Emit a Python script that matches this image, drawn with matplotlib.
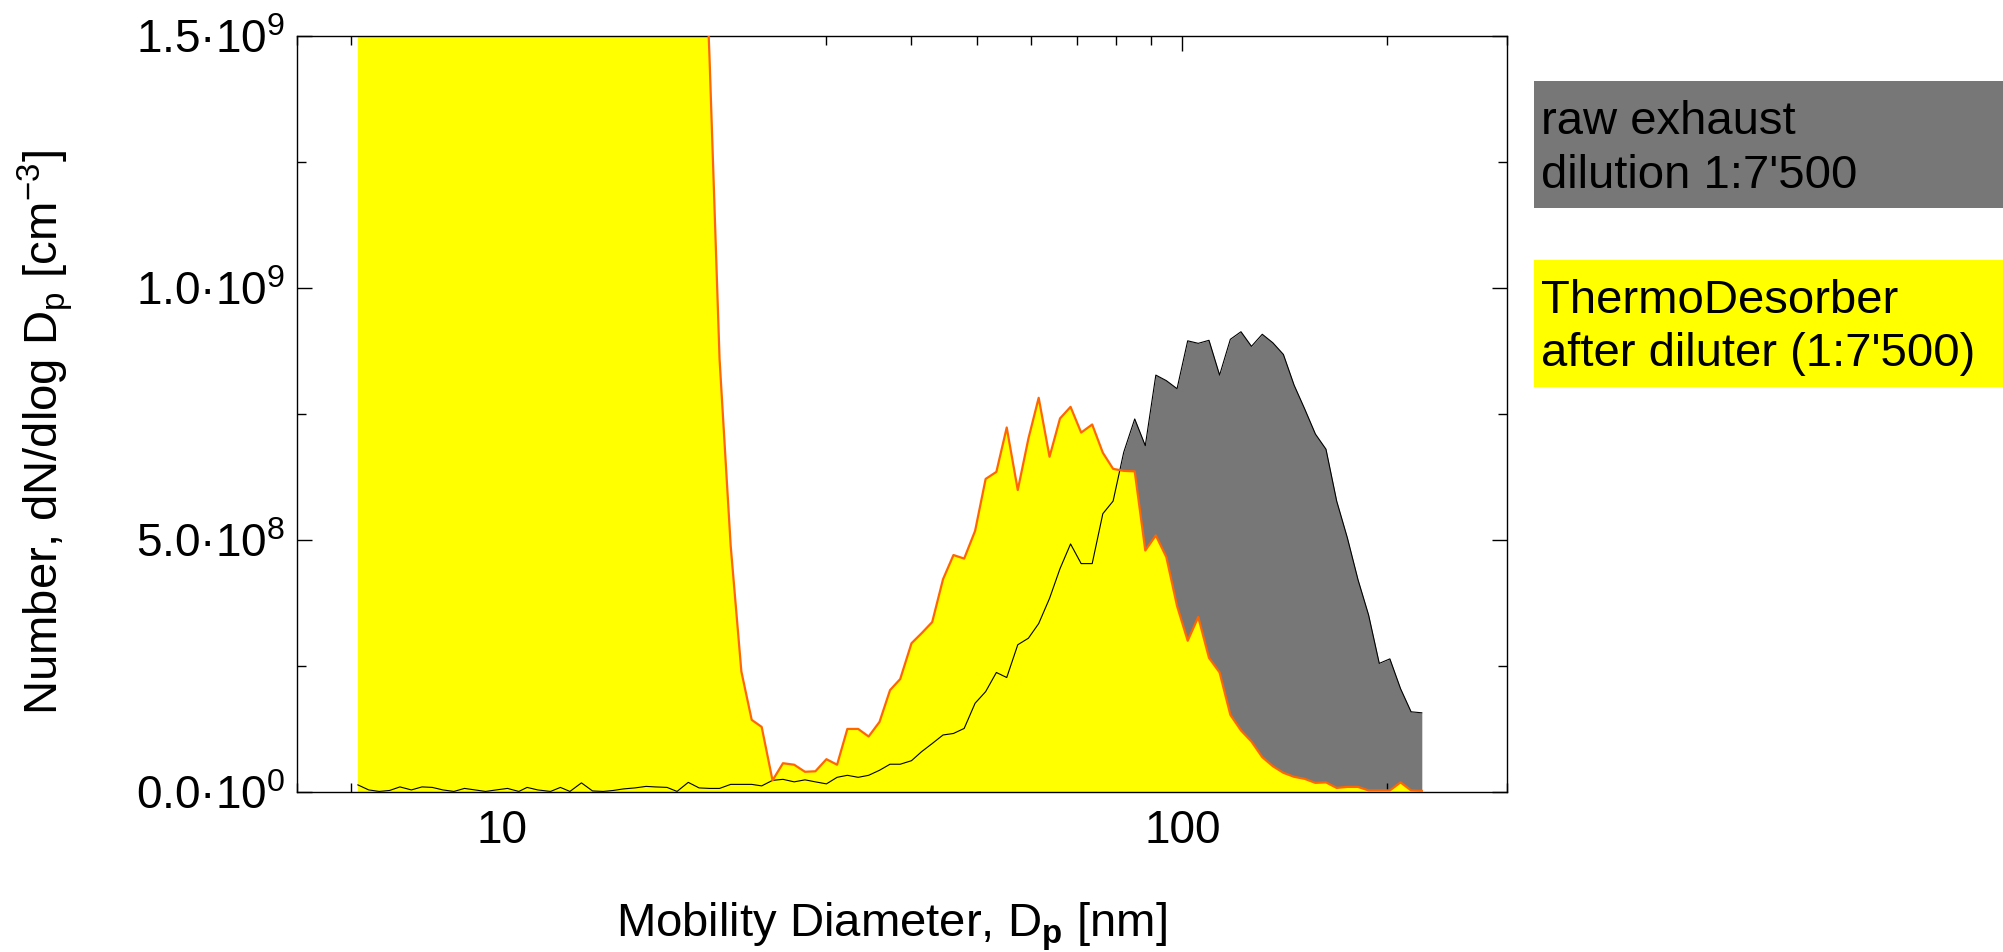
from __future__ import annotations

import math

import matplotlib
matplotlib.use('Agg')
import matplotlib.pyplot as plt
from matplotlib.patches import Rectangle
from matplotlib.ticker import FixedLocator, FuncFormatter, LogLocator, NullFormatter

# SMPS channel midpoints [nm]
DIAMETERS = [
    6.15, 6.38, 6.61, 6.85, 7.09, 7.37, 7.64, 7.91, 8.20, 8.51,
    8.82, 9.14, 9.47, 9.82, 10.2, 10.6, 10.9, 11.3, 11.8, 12.2,
    12.6, 13.1, 13.6, 14.1, 14.6, 15.1, 15.7, 16.3, 16.8, 17.5,
    18.1, 18.8, 19.5, 20.2, 20.9, 21.7, 22.5, 23.3, 24.1, 25.0,
    25.9, 26.9, 27.9, 28.9, 30.0, 31.1, 32.2, 33.4, 34.6, 35.9,
    37.2, 38.5, 40.0, 41.4, 42.9, 44.5, 46.1, 47.8, 49.6, 51.4,
    53.3, 55.2, 57.3, 59.4, 61.5, 63.8, 66.1, 68.5, 71.0, 73.7,
    76.4, 79.1, 82.0, 85.1, 88.2, 91.4, 94.7, 98.2, 101.8, 105.5,
    109.4, 113.4, 117.6, 121.9, 126.3, 131.0, 135.8, 140.7, 145.9, 151.2,
    156.8, 162.5, 168.5, 174.7, 181.1, 187.7, 194.6, 201.7, 209.1, 216.7,
    224.7,
]

# dN/dlogDp in units of 1e8 cm^-3
RAW_EXHAUST = [
    0.15, 0.05, 0.02, 0.04, 0.11, 0.05, 0.11, 0.10, 0.05, 0.02,
    0.08, 0.05, 0.02, 0.05, 0.08, 0.02, 0.10, 0.05, 0.02, 0.10,
    0.02, 0.19, 0.03, 0.02, 0.04, 0.07, 0.09, 0.12, 0.11, 0.10,
    0.02, 0.20, 0.09, 0.08, 0.08, 0.16, 0.16, 0.16, 0.13, 0.24,
    0.26, 0.21, 0.25, 0.21, 0.17, 0.30, 0.34, 0.30, 0.34, 0.44,
    0.56, 0.56, 0.63, 0.81, 0.97, 1.14, 1.17, 1.27, 1.77, 2.00,
    2.38, 2.28, 2.93, 3.06, 3.35, 3.85, 4.44, 4.93, 4.54, 4.54,
    5.53, 5.78, 6.75, 7.41, 6.88, 8.28, 8.17, 8.01, 8.96, 8.91,
    8.97, 8.28, 8.99, 9.14, 8.85, 9.09, 8.92, 8.69, 8.08, 7.61,
    7.11, 6.81, 5.78, 5.05, 4.22, 3.52, 2.56, 2.65, 2.06, 1.60,
    1.58,
]

THERMO_DESORBER = [
    48.0, 51.0, 53.5, 55.0, 56.0, 55.5, 54.0, 52.5, 50.0, 48.5,
    46.0, 44.5, 42.0, 40.5, 38.0, 36.5, 35.0, 33.0, 31.5, 30.0,
    28.5, 27.0, 26.0, 25.0, 24.0, 23.5, 23.0, 22.5, 22.0, 21.5,
    21.0, 20.5, 20.0, 14.6, 8.6, 4.9, 2.4, 1.44, 1.30, 0.24,
    0.58, 0.55, 0.41, 0.42, 0.66, 0.55, 1.26, 1.26, 1.11, 1.40,
    2.03, 2.25, 2.96, 3.16, 3.38, 4.23, 4.71, 4.64, 5.19, 6.22,
    6.36, 7.24, 6.00, 7.02, 7.83, 6.66, 7.42, 7.65, 7.14, 7.30,
    6.74, 6.42, 6.38, 6.37, 4.80, 5.10, 4.67, 3.70, 3.01, 3.48,
    2.67, 2.38, 1.54, 1.23, 1.01, 0.70, 0.52, 0.39, 0.31, 0.27,
    0.19, 0.20, 0.09, 0.11, 0.11, 0.04, 0.04, 0.04, 0.20, 0.04,
    0.03,
]

Y_TICKS = [0.0, 5.0e8, 1.0e9, 1.5e9]
LEGEND_LABELS = [
    ('raw exhaust', 'dilution 1:7\'500'),
    ('ThermoDesorber', 'after diluter (1:7\'500)'),
]

GRAY = '#777777'
YELLOW = '#ffff00'
ORANGE = '#ff6600'
FONT_SIZE = 34


def _sci_label(value: float, _pos=None) -> str:
    if value == 0:
        mant, exp = 0.0, 0
    else:
        exp = int(math.floor(math.log10(abs(value))))
        mant = value / 10 ** exp
    return f'{mant:.1f}\u00b710$^{{{exp}}}$'


def main() -> None:
    plt.rcParams['font.family'] = ['Liberation Sans', 'DejaVu Sans']
    plt.rcParams['mathtext.fontset'] = 'custom'
    plt.rcParams['mathtext.rm'] = 'Liberation Sans'
    plt.rcParams['mathtext.it'] = 'Liberation Sans:italic'
    plt.rcParams['mathtext.bf'] = 'Liberation Sans:bold'
    plt.rcParams['mathtext.default'] = 'regular'

    raw = [v * 1e8 for v in RAW_EXHAUST]
    td = [v * 1e8 for v in THERMO_DESORBER]

    fig = plt.figure(figsize=(20.03, 9.52), dpi=100)
    ax = fig.add_axes([0.1481, 0.1676, 0.6044, 0.7942])

    ax.fill_between(DIAMETERS, 0, raw, color=GRAY, lw=0, zorder=1)
    ax.fill_between(DIAMETERS, 0, td, color=YELLOW, lw=0, zorder=2)
    ax.plot(DIAMETERS, raw, color='black', lw=0.8, zorder=3)
    ax.plot(DIAMETERS, td, color=ORANGE, lw=1.6, zorder=4)

    ax.set_xscale('log')
    ax.set_xlim(5, 300)
    ax.set_ylim(0, 1.5e9)

    ax.xaxis.set_major_locator(LogLocator(base=10))
    ax.xaxis.set_minor_locator(LogLocator(base=10, subs=range(2, 10)))
    ax.xaxis.set_major_formatter(FuncFormatter(lambda v, p: f'{v:g}'))
    ax.xaxis.set_minor_formatter(NullFormatter())
    ax.yaxis.set_major_locator(FixedLocator(Y_TICKS))
    ax.yaxis.set_minor_locator(FixedLocator([2.5e8, 7.5e8, 1.25e9]))
    ax.yaxis.set_major_formatter(FuncFormatter(_sci_label))

    ax.tick_params(which='both', direction='in', top=True, right=True,
                   width=1.0, labelsize=33)
    ax.tick_params(which='major', length=10.8)
    ax.tick_params(which='minor', length=6.5)
    ax.tick_params(axis='y', pad=8.5)
    ax.tick_params(axis='x', pad=12)
    for spine in ax.spines.values():
        spine.set_linewidth(1.0)

    ax.set_xlabel('Mobility Diameter, D$_\\mathbf{p}$ [nm]', fontsize=FONT_SIZE,
                  va='baseline')
    ax.xaxis.set_label_coords(0.491, -0.191)
    ax.set_ylabel('Number, dN/dlog D$_p$ [cm$^{-3}$]', fontsize=FONT_SIZE,
                  va='center')
    ax.yaxis.set_label_coords(-0.208, 0.476)

    # legend boxes to the right of the plot
    boxes = [(GRAY, 0.7815, 0.8592, 0.8028), (YELLOW, 0.5935, 0.6709, 0.6155)]
    for (color, y0, b1, b2), (line1, line2) in zip(boxes, LEGEND_LABELS):
        fig.add_artist(Rectangle((0.7658, y0), 0.2342, 0.1337,
                                 transform=fig.transFigure, color=color, lw=0))
        fig.text(0.7694, b1, line1, fontsize=FONT_SIZE, va='baseline')
        fig.text(0.7694, b2, line2, fontsize=FONT_SIZE, va='baseline')

    fig.savefig('out.png', dpi=100)
    plt.close(fig)


if __name__ == '__main__':
    main()
